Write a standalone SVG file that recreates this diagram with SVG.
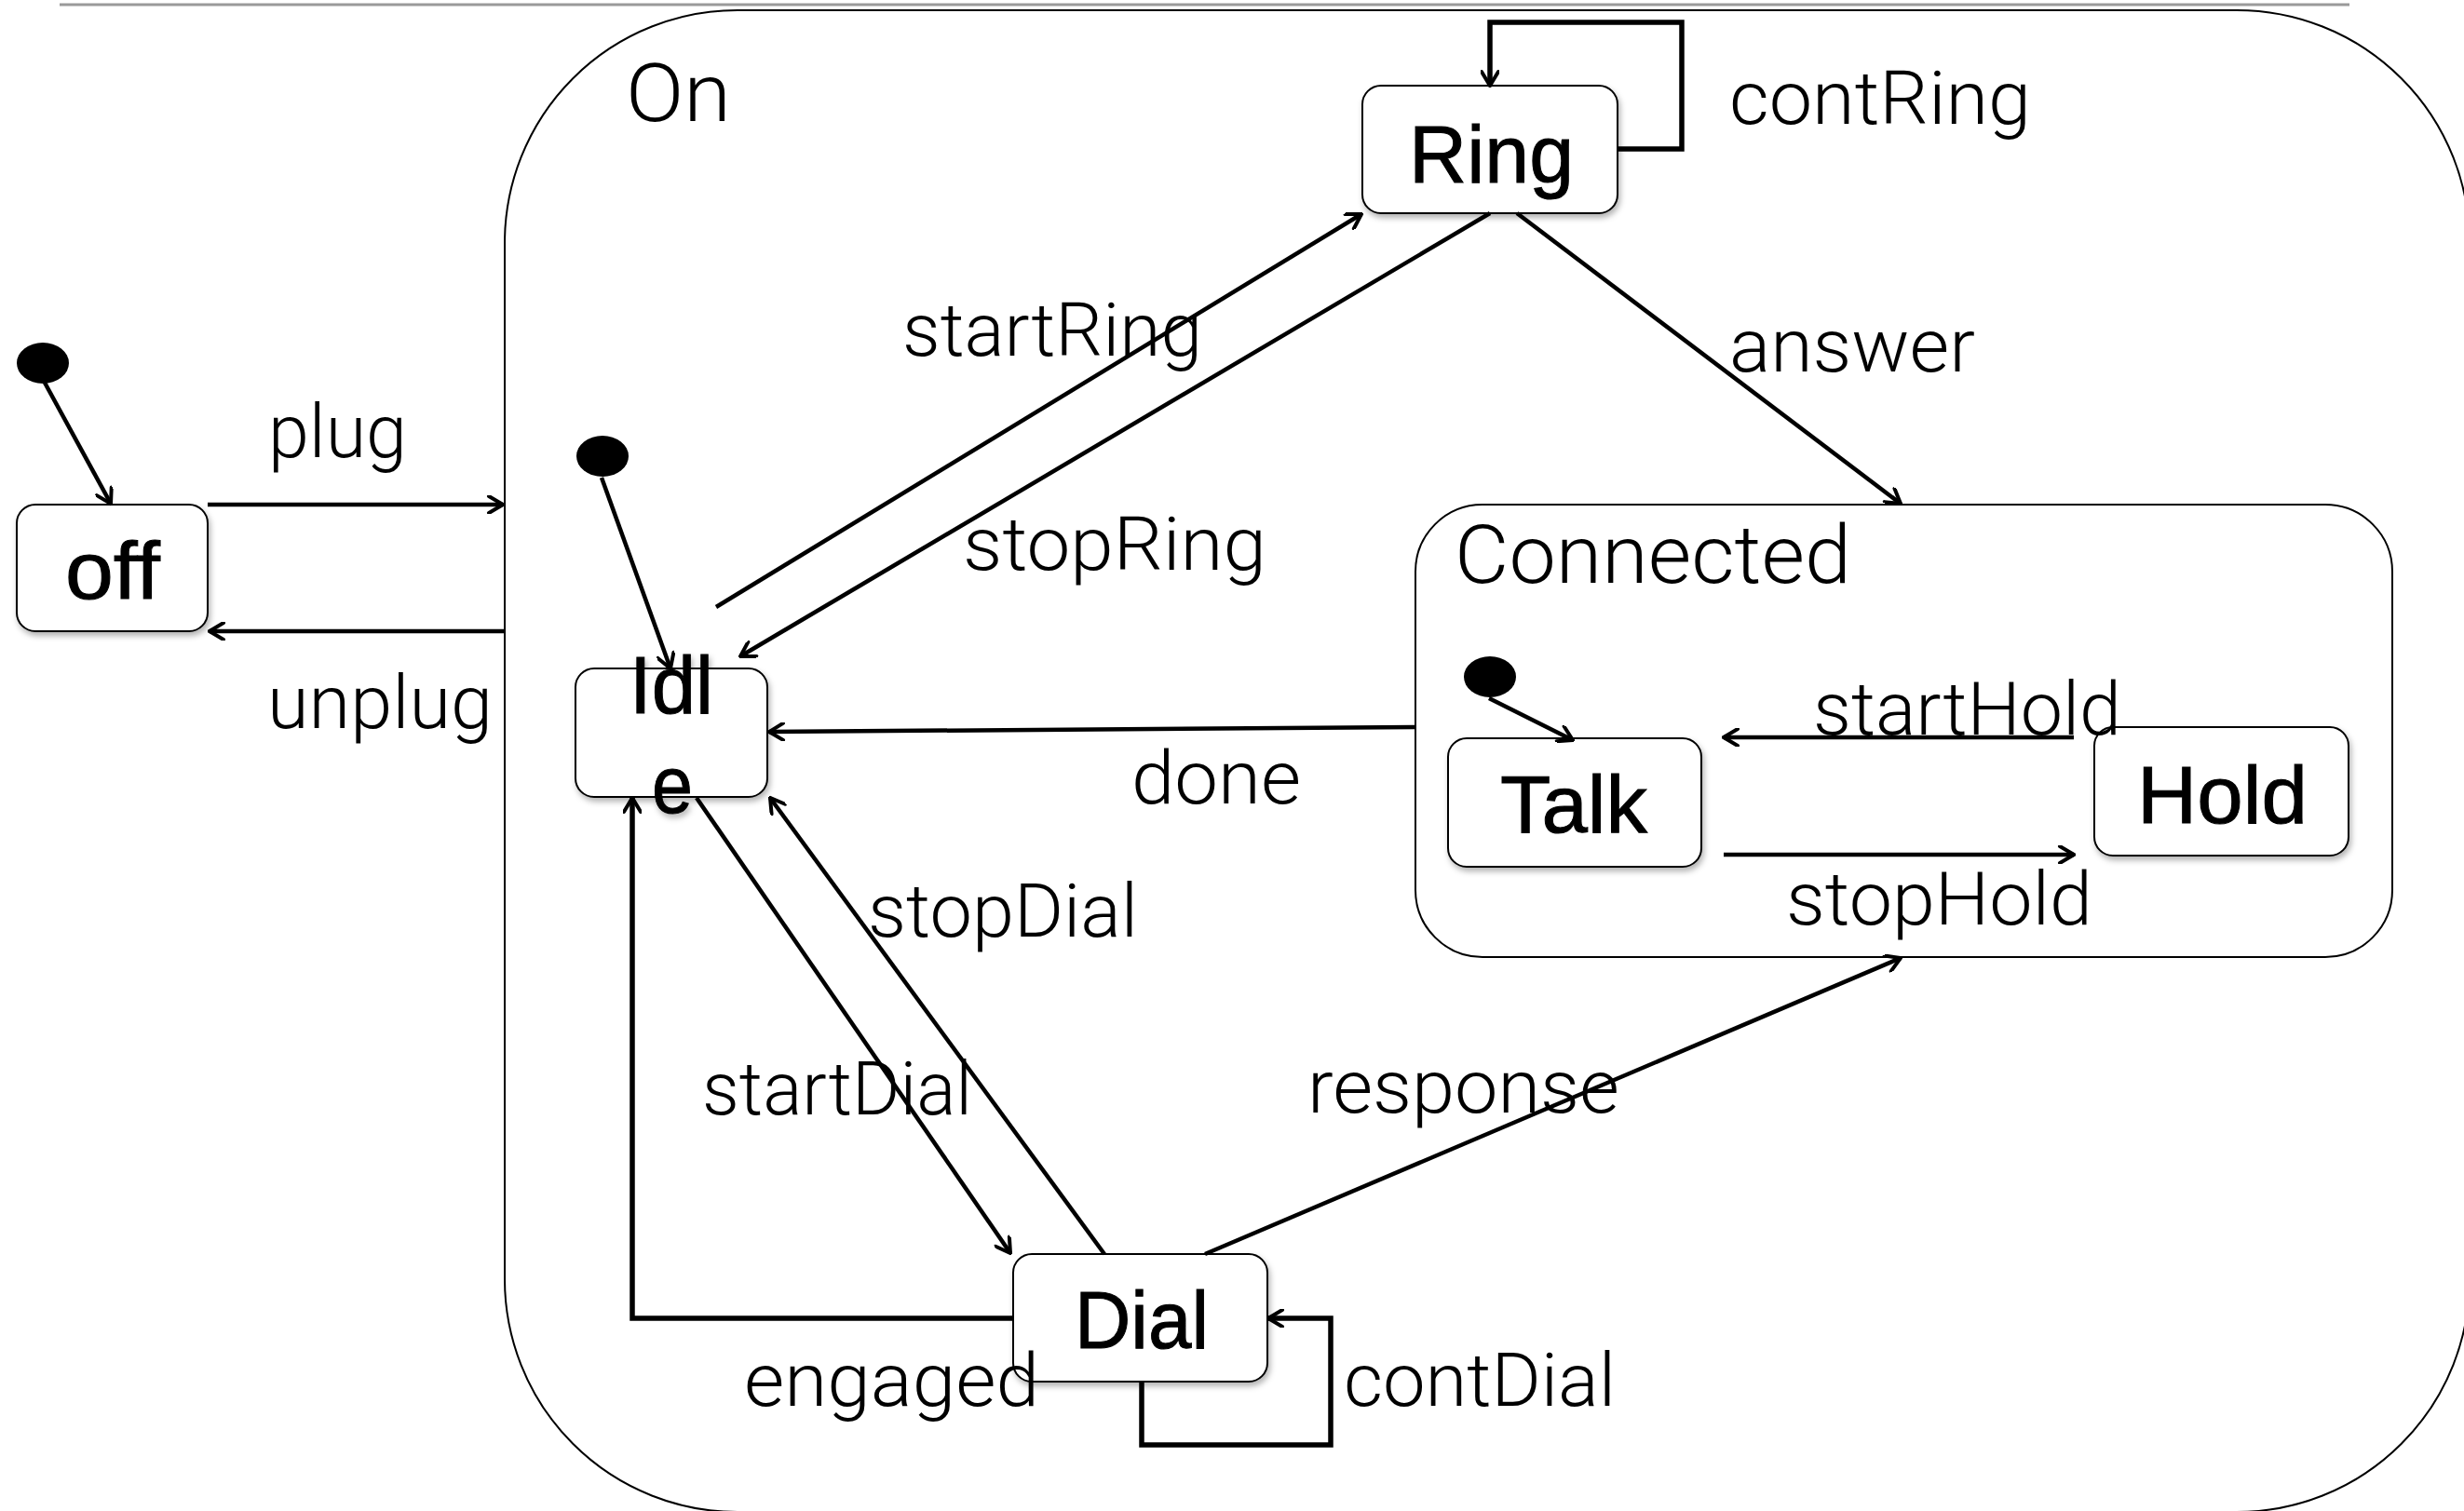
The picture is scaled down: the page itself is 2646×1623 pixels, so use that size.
<svg xmlns="http://www.w3.org/2000/svg" width="2646" height="1623" viewBox="0 0 2646 1623">
<defs>
<style>
.box{fill:#fff;stroke:#000;stroke-width:2}
.cont{fill:none;stroke:#000;stroke-width:2}
.name{font-family:"Liberation Sans",Arial,sans-serif;font-size:88px;fill:#000;stroke:#000;stroke-width:1}
.lbl{font-family:Roboto,"Liberation Sans",sans-serif;font-weight:300;font-size:80px;fill:#000}
.big{font-family:Roboto,"Liberation Sans",sans-serif;font-weight:300;font-size:88px;fill:#000}
.c{fill:none;stroke:#000;stroke-width:4.5;stroke-linejoin:miter}
.loop{fill:none;stroke:#000;stroke-width:5.5;stroke-linejoin:miter}
.a{marker-end:url(#arr)}
</style>
<marker id="arr" viewBox="0 0 20 20" refX="18" refY="10" markerWidth="20" markerHeight="20" markerUnits="userSpaceOnUse" orient="auto">
<path d="M3,1 L18,10 L3,19" fill="none" stroke="#000" stroke-width="4" stroke-linecap="round" stroke-linejoin="miter"/>
</marker>
<filter id="sh" x="-20%" y="-20%" width="140%" height="140%">
<feDropShadow dx="2" dy="4" stdDeviation="3" flood-color="#000" flood-opacity="0.3"/>
</filter>
</defs>
<rect width="2646" height="1623" fill="#fff"/>
<line x1="64" y1="5" x2="2523" y2="5" stroke="#9a9a9a" stroke-width="3"/>

<g id="On">
<rect class="cont" x="542" y="11" width="2110" height="1613" rx="250" ry="250"/>
<text class="big" x="672" y="130" textLength="113" lengthAdjust="spacingAndGlyphs">On</text>
</g>
<g id="Connected">
<rect class="cont" x="1520" y="542" width="1049" height="486" rx="72" ry="72"/>
<text class="big" x="1562" y="626" textLength="426" lengthAdjust="spacingAndGlyphs">Connected</text>
</g>

<g id="init-off"><ellipse cx="46" cy="390" rx="28" ry="22" fill="#000"/></g>
<g id="init-idle"><ellipse cx="647" cy="490" rx="28" ry="22" fill="#000"/></g>
<g id="init-talk"><ellipse cx="1600" cy="727" rx="28" ry="22" fill="#000"/></g>

<g id="off" filter="url(#sh)">
<rect class="box" x="18" y="542" width="205" height="136" rx="20"/>
<text class="name" x="70" y="643" textLength="102" lengthAdjust="spacingAndGlyphs">off</text>
</g>
<g id="Idle" filter="url(#sh)">
<rect class="box" x="618" y="718" width="206" height="138" rx="20"/>
<text class="name" x="676" y="766" textLength="90" lengthAdjust="spacingAndGlyphs">Idl</text>
<text class="name" x="700" y="873" textLength="44" lengthAdjust="spacingAndGlyphs">e</text>
</g>
<g id="Ring" filter="url(#sh)">
<rect class="box" x="1463" y="92" width="274" height="137" rx="20"/>
<text class="name" x="1513" y="196" textLength="177" lengthAdjust="spacingAndGlyphs">Ring</text>
</g>
<g id="Talk" filter="url(#sh)">
<rect class="box" x="1555" y="793" width="272" height="138" rx="20"/>
<text class="name" x="1611" y="894" textLength="158" lengthAdjust="spacingAndGlyphs">Talk</text>
</g>
<g id="Hold" filter="url(#sh)">
<rect class="box" x="2249" y="781" width="273" height="138" rx="20"/>
<text class="name" x="2295" y="884" textLength="183" lengthAdjust="spacingAndGlyphs">Hold</text>
</g>
<g id="Dial" filter="url(#sh)">
<rect class="box" x="1088" y="1347" width="273" height="137" rx="20"/>
<text class="name" x="1154" y="1448" textLength="144" lengthAdjust="spacingAndGlyphs">Dial</text>
</g>

<g id="connectors">
<line class="c a" x1="48" y1="411" x2="119" y2="541"/>
<line class="c a" x1="223" y1="542" x2="540" y2="542"/>
<line class="c a" x1="541" y1="678" x2="225" y2="678"/>
<line class="c a" x1="646" y1="513" x2="720" y2="718"/>
<line class="c a" x1="769" y1="652" x2="1462" y2="230"/>
<line class="c a" x1="1600" y1="229" x2="795" y2="705"/>
<polyline class="loop a" points="1737,160 1806,160 1806,24 1600,24 1600,92"/>
<line class="c a" x1="1629" y1="229" x2="2041" y2="541"/>
<line class="c a" x1="1520" y1="781" x2="826" y2="786"/>
<line class="c a" x1="1599" y1="750" x2="1689" y2="795"/>
<line class="c a" x1="2227" y1="792" x2="1851" y2="792"/>
<line class="c a" x1="1851" y1="918" x2="2227" y2="918"/>
<line class="c a" x1="748" y1="857" x2="1085" y2="1346"/>
<line class="c a" x1="1186" y1="1347" x2="827" y2="857"/>
<polyline class="loop a" points="1088,1416 679,1416 679,857"/>
<polyline class="loop a" points="1226,1484 1226,1552 1429,1552 1429,1416 1362,1416"/>
<line class="c a" x1="1294" y1="1347" x2="2041" y2="1029"/>
</g>

<g id="labels">
<text class="lbl" x="288" y="491" textLength="149" lengthAdjust="spacingAndGlyphs">plug</text>
<text class="lbl" x="287" y="782" textLength="242" lengthAdjust="spacingAndGlyphs">unplug</text>
<text class="lbl" x="1857" y="133" textLength="324" lengthAdjust="spacingAndGlyphs">contRing</text>
<text class="lbl" x="969" y="382" textLength="322" lengthAdjust="spacingAndGlyphs">startRing</text>
<text class="lbl" x="1857" y="399" textLength="264" lengthAdjust="spacingAndGlyphs">answer</text>
<text class="lbl" x="1034" y="612" textLength="326" lengthAdjust="spacingAndGlyphs">stopRing</text>
<text class="lbl" x="1215" y="863" textLength="182" lengthAdjust="spacingAndGlyphs">done</text>
<text class="lbl" x="1947" y="789" textLength="331" lengthAdjust="spacingAndGlyphs">startHold</text>
<text class="lbl" x="1918" y="993" textLength="329" lengthAdjust="spacingAndGlyphs">stopHold</text>
<text class="lbl" x="932" y="1006" textLength="290" lengthAdjust="spacingAndGlyphs">stopDial</text>
<text class="lbl" x="754" y="1197" textLength="290" lengthAdjust="spacingAndGlyphs">startDial</text>
<text class="lbl" x="1404" y="1195" textLength="335" lengthAdjust="spacingAndGlyphs">response</text>
<text class="lbl" x="799" y="1510" textLength="317" lengthAdjust="spacingAndGlyphs">engaged</text>
<text class="lbl" x="1443" y="1510" textLength="292" lengthAdjust="spacingAndGlyphs">contDial</text>
</g>
</svg>
